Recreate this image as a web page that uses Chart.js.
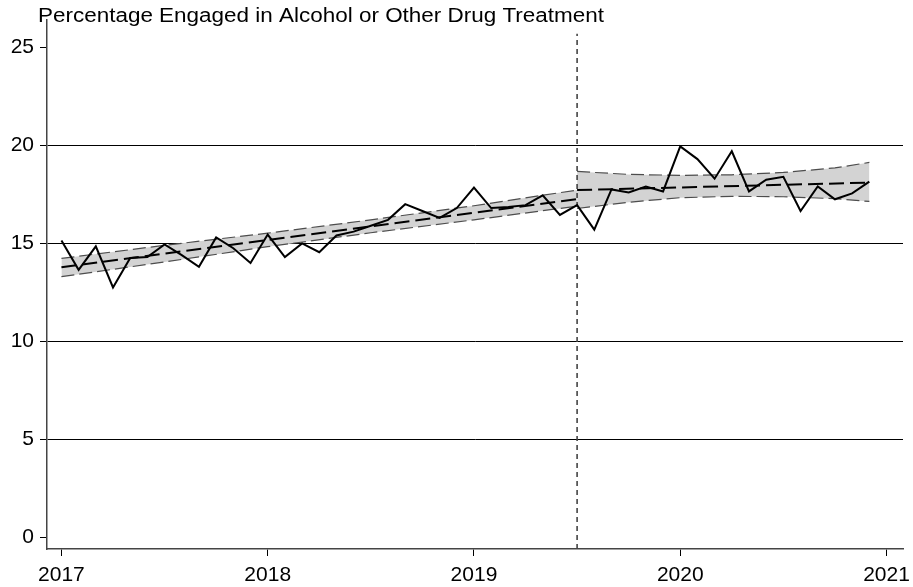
<!DOCTYPE html>
<html lang="en">
<head>
    <meta charset="UTF-8">
    <title>Percentage Engaged in Alcohol or Other Drug Treatment</title>
    <script src="https://cdn.jsdelivr.net/npm/chart.js"></script>
    <style>
        body {
            margin: 0;
            background: #fff;
        }
        canvas {
            display: block;
        }
    </style>
</head>
<body>
    <canvas id="treatChart" width="913" height="587"></canvas>

    <script>
        // Monthly observed percentage, Jan 2017 .. Dec 2020
        const engaged = [
            15.15, 13.65, 14.85, 12.75, 14.25, 14.30, 14.95, 14.40, 13.80, 15.30, 14.75, 14.00,
            15.45, 14.30, 15.00, 14.55, 15.40, 15.60, 15.90, 16.20, 17.00, 16.65, 16.30, 16.80,
            17.85, 16.80, 16.85, 16.95, 17.45, 16.45, 16.95, 15.70, 17.75, 17.60, 17.90, 17.65,
            19.95, 19.30, 18.30, 19.70, 17.65, 18.25, 18.40, 16.65, 17.90, 17.25, 17.55, 18.15
        ];
        const firstYear = 2017;
        const monthX = engaged.map((_, i) => firstYear + i / 12);

        // Fitted trend before the break
        const preFitX = [2017, 2019.5];
        const preFit = [13.78, 17.26];
        const preBandX = [2017, 2017.5, 2018, 2018.5, 2019, 2019.5];
        const preLower = [13.30, 14.05, 14.83, 15.54, 16.20, 16.90];
        const preUpper = [14.23, 14.90, 15.52, 16.20, 16.92, 17.72];

        // Fitted trend after the break
        const postFitX = [2019.5, 2020.917];
        const postFit = [17.72, 18.10];
        const postBandX = [2019.5, 2019.75, 2020, 2020.25, 2020.5, 2020.75, 2020.917];
        const postLower = [16.78, 17.10, 17.33, 17.40, 17.38, 17.28, 17.14];
        const postUpper = [18.67, 18.52, 18.47, 18.50, 18.62, 18.85, 19.13];

        // Break line and axis ticks
        const breakX = 2019.5;
        const breakY = [-0.6, 25.7];
        const yTicks = [0, 5, 10, 15, 20, 25];
        const xTicks = [2017, 2018, 2019, 2020, 2021];
        const chartTitle = 'Percentage Engaged in Alcohol or Other Drug Treatment';

        const pts = (xs, ys) => xs.map((x, i) => ({ x: x, y: ys[i] }));
        const fontFam = '"Liberation Sans", Arial, Helvetica, sans-serif';

        const bandEdge = {
            borderColor: '#4d4d4d',
            borderWidth: 1.2,
            borderDash: [13, 5],
            pointRadius: 0,
            order: 3
        };

        const datasets = [
            // 0,1: pre band
            Object.assign({ data: pts(preBandX, preLower), fill: false }, bandEdge),
            Object.assign({ data: pts(preBandX, preUpper), fill: 0, backgroundColor: '#d3d3d3' }, bandEdge),
            // 2,3: post band
            Object.assign({ data: pts(postBandX, postLower), fill: false }, bandEdge),
            Object.assign({ data: pts(postBandX, postUpper), fill: 2, backgroundColor: '#d3d3d3' }, bandEdge),
            // fitted lines
            {
                data: pts(preFitX, preFit),
                borderColor: '#000',
                borderWidth: 2,
                borderDash: [15, 6],
                pointRadius: 0,
                fill: false,
                order: 2
            },
            {
                data: pts(postFitX, postFit),
                borderColor: '#000',
                borderWidth: 2,
                borderDash: [15, 6],
                pointRadius: 0,
                fill: false,
                order: 2
            },
            // break line
            {
                data: pts([breakX, breakX], breakY),
                borderColor: '#444',
                borderWidth: 1.6,
                borderDash: [5, 4],
                pointRadius: 0,
                fill: false,
                order: 1
            },
            // observed series
            {
                data: pts(monthX, engaged),
                borderColor: '#000',
                borderWidth: 2,
                pointRadius: 0,
                fill: false,
                order: 0
            }
        ];

        // title drawn top-left like the original graph (slightly wide lettering)
        const titlePlugin = {
            id: 'topTitle',
            afterDraw(chart) {
                const c = chart.ctx;
                c.save();
                c.fillStyle = '#000';
                c.font = '20px ' + fontFam;
                c.textAlign = 'left';
                c.textBaseline = 'alphabetic';
                const w = c.measureText(chartTitle).width;
                c.translate(38, 22);
                c.scale(566 / w, 1);
                c.fillText(chartTitle, 0, 0);
                c.restore();
            }
        };

        new Chart(document.getElementById('treatChart'), {
            type: 'line',
            data: { datasets: datasets },
            plugins: [titlePlugin],
            options: {
                responsive: false,
                animation: false,
                layout: { padding: { top: 20, right: 10, left: 0, bottom: 0 } },
                elements: { line: { tension: 0 } },
                plugins: {
                    legend: { display: false },
                    tooltip: { enabled: false },
                    title: { display: false }
                },
                scales: {
                    x: {
                        type: 'linear',
                        min: 2016.93,
                        max: 2021.08,
                        afterBuildTicks: (s) => { s.ticks = xTicks.map(v => ({ value: v })); },
                        afterFit: (s) => {
                            s.height = 38;
                            s.paddingLeft = 0;
                            s.paddingRight = 0;
                        },
                        grid: {
                            drawOnChartArea: false,
                            drawTicks: true,
                            tickLength: 7,
                            tickColor: '#000'
                        },
                        border: { display: true, color: '#444', width: 1.5 },
                        ticks: {
                            color: '#000',
                            padding: 7,
                            maxRotation: 0,
                            font: { family: fontFam, size: 21 },
                            callback: (v) => String(v)
                        }
                    },
                    y: {
                        type: 'linear',
                        min: -0.6,
                        max: 26.4,
                        afterBuildTicks: (s) => { s.ticks = yTicks.map(v => ({ value: v })); },
                        afterFit: (s) => {
                            s.width = 47;
                            s.paddingTop = 0;
                            s.paddingBottom = 0;
                        },
                        grid: {
                            color: (ctx) => (ctx.tick && (ctx.tick.value === 0 || ctx.tick.value === 25)) ? 'rgba(0,0,0,0)' : '#000',
                            lineWidth: 1,
                            tickLength: 7,
                            tickColor: '#000'
                        },
                        border: { display: true, color: '#444', width: 1.5 },
                        ticks: {
                            color: '#000',
                            padding: 6,
                            font: { family: fontFam, size: 21 },
                            callback: (v) => String(v)
                        }
                    }
                }
            }
        });
    </script>
</body>
</html>
